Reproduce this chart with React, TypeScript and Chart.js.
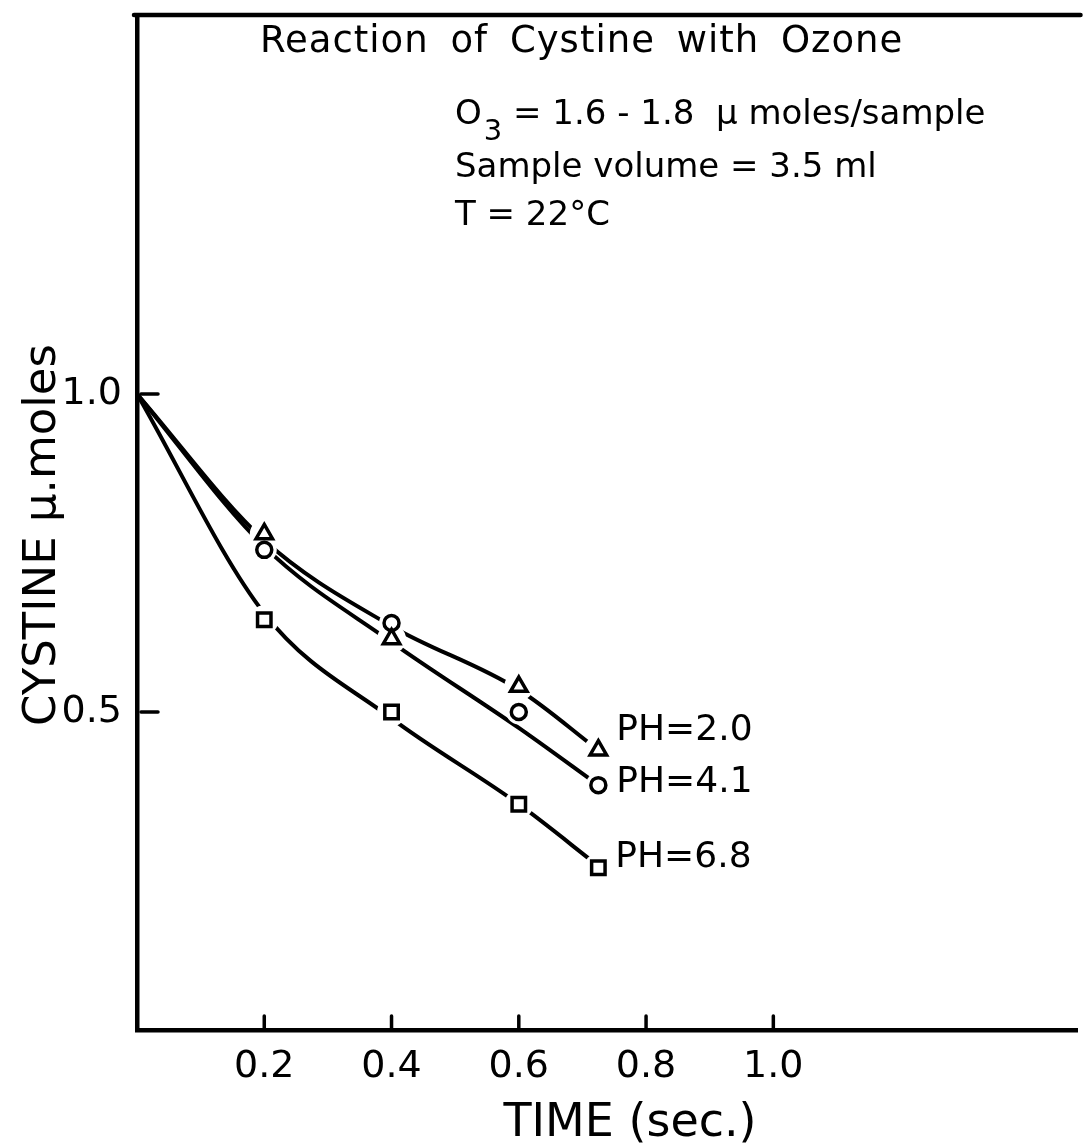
import React, { useEffect, useRef } from "react";
import { Chart, registerables } from "chart.js";

Chart.register(...registerables);

const FONT = "'DejaVu Sans', 'Liberation Sans', sans-serif";

// ---- text ----
const titleText = "Reaction of Cystine with Ozone";
const ozoneLine = { lead: "O", sub: "3", rest: " = 1.6 - 1.8  \u03bc moles/sample" };
const conditionLines = ["Sample volume = 3.5 ml", "T = 22\u00b0C"];
const xAxisTitle = "TIME (sec.)";
const yAxisTitle = "CYSTINE \u03bc.moles";

// ---- data (time in sec, cystine in µmoles) ----
const sampleTimes = [0.2, 0.4, 0.6, 0.725];
const ph20Measured = [0.78, 0.615, 0.54, 0.44];
const ph41Measured = [0.755, 0.64, 0.5, 0.385];
const ph68Measured = [0.645, 0.5, 0.355, 0.255];

// fitted curves drawn through the data
const curveTimes = [0, 0.2, 0.4, 0.6, 0.725];
const ph20Curve = [1.0, 0.77, 0.635, 0.535, 0.44];
const ph41Curve = [1.0, 0.76, 0.61, 0.475, 0.385];
const ph68Curve = [1.0, 0.655, 0.49, 0.355, 0.258];

const seriesLabels = ["PH=2.0", "PH=4.1", "PH=6.8"];
const markerStyles = ["triangle", "circle", "rect"];

// ---- axes ----
const xTickValues = [0.2, 0.4, 0.6, 0.8, 1.0];
const yTickValues = [0.5, 1.0];
const xMin = 0;
const xMax = 1.478;
const yMin = 0;
const yMax = 1.596;

const toXY = (xs: number[], ys: number[]) => xs.map((x, i) => ({ x, y: ys[i] }));

const measuredSets = [ph20Measured, ph41Measured, ph68Measured];
const curveSets = [ph20Curve, ph41Curve, ph68Curve];
const markerRadius: Record<string, number> = { triangle: 9.5, circle: 7.5, rect: 9.5 };
const labelOffsets = [
  { dx: 18, dy: -20 },
  { dx: 18, dy: -3 },
  { dx: 17, dy: -10 },
];

const decorPlugin = {
  id: "decor",
  afterDraw(chart: any) {
    const { ctx, chartArea, scales } = chart;
    const xs = scales.x;
    const ys = scales.y;
    ctx.save();
    ctx.strokeStyle = "#000";
    ctx.fillStyle = "#000";
    ctx.lineCap = "round";

    // top frame line
    ctx.lineWidth = 4.5;
    ctx.beginPath();
    ctx.moveTo(chartArea.left - 3, chartArea.top);
    ctx.lineTo(chartArea.right + 3, chartArea.top);
    ctx.stroke();

    // inward tick marks
    ctx.lineWidth = 3.5;
    xTickValues.forEach((v) => {
      const px = xs.getPixelForValue(v);
      ctx.beginPath();
      ctx.moveTo(px, chartArea.bottom);
      ctx.lineTo(px, chartArea.bottom - 14);
      ctx.stroke();
    });
    yTickValues.forEach((v) => {
      const py = ys.getPixelForValue(v);
      ctx.beginPath();
      ctx.moveTo(chartArea.left + 4, py);
      ctx.lineTo(chartArea.left + 21, py);
      ctx.stroke();
    });

    // title
    ctx.textBaseline = "alphabetic";
    ctx.textAlign = "left";
    ctx.font = `37px ${FONT}`;
    (ctx as any).letterSpacing = "1px";
    (ctx as any).wordSpacing = "9px";
    ctx.fillText(titleText, 260, 52);
    (ctx as any).letterSpacing = "0px";
    (ctx as any).wordSpacing = "0px";

    // conditions
    const left = 455;
    ctx.font = `34px ${FONT}`;
    let cx = left;
    ctx.fillText(ozoneLine.lead, cx, 124);
    cx += ctx.measureText(ozoneLine.lead).width + 2;
    ctx.font = `29px ${FONT}`;
    ctx.fillText(ozoneLine.sub, cx, 140);
    cx += ctx.measureText(ozoneLine.sub).width;
    ctx.font = `34px ${FONT}`;
    ctx.fillText(ozoneLine.rest, cx, 124);
    ctx.fillText(conditionLines[0], left, 177);
    ctx.fillText(conditionLines[1], left, 225);

    // series labels at curve ends
    ctx.font = `36px ${FONT}`;
    ctx.textBaseline = "middle";
    measuredSets.forEach((vals, i) => {
      const last = vals.length - 1;
      const px = xs.getPixelForValue(sampleTimes[last]);
      const py = ys.getPixelForValue(vals[last]);
      ctx.fillText(seriesLabels[i], px + labelOffsets[i].dx, py + labelOffsets[i].dy);
    });

    // axis titles
    ctx.font = `46px ${FONT}`;
    ctx.textAlign = "center";
    ctx.textBaseline = "alphabetic";
    ctx.fillText(xAxisTitle, 630, 1136);
    ctx.save();
    ctx.translate(55, 535);
    ctx.rotate(-Math.PI / 2);
    ctx.font = `45px ${FONT}`;
    ctx.fillText(yAxisTitle, 0, 0);
    ctx.restore();

    ctx.restore();
  },
};

export default function App() {
  const canvasRef = useRef<HTMLCanvasElement | null>(null);

  useEffect(() => {
    if (!canvasRef.current) return;

    const curveDatasets = curveSets.map((vals, i) => ({
      label: seriesLabels[i] + " fit",
      data: toXY(curveTimes, vals),
      showLine: true,
      borderColor: "#000",
      borderWidth: 4,
      pointRadius: 0,
      cubicInterpolationMode: "monotone" as const,
      fill: false,
      order: 3,
    }));

    const haloDatasets = measuredSets.map((vals, i) => ({
      label: seriesLabels[i] + " halo",
      data: toXY(sampleTimes, vals),
      showLine: false,
      pointStyle: "circle" as const,
      pointRadius: markerRadius[markerStyles[i]] + 5,
      pointBackgroundColor: "#fff",
      pointBorderWidth: 0,
      pointBorderColor: "#fff",
      order: 2,
    }));

    const markerDatasets = measuredSets.map((vals, i) => ({
      label: seriesLabels[i],
      data: toXY(sampleTimes, vals),
      showLine: false,
      pointStyle: markerStyles[i] as any,
      pointRadius: markerRadius[markerStyles[i]],
      pointBackgroundColor: "#fff",
      pointBorderColor: "#000",
      pointBorderWidth: 3.5,
      order: 1,
    }));

    const chart = new Chart(canvasRef.current, {
      type: "scatter",
      data: { datasets: [...markerDatasets, ...haloDatasets, ...curveDatasets] as any },
      options: {
        animation: false,
        responsive: false,
        devicePixelRatio: 1,
        layout: { padding: { top: 15, right: 0, left: 0, bottom: 0 } },
        plugins: {
          legend: { display: false },
          tooltip: { enabled: false },
          title: { display: false },
        },
        scales: {
          x: {
            type: "linear",
            min: xMin,
            max: xMax,
            afterBuildTicks: (s: any) => {
              s.ticks = xTickValues.map((v) => ({ value: v }));
            },
            afterFit: (s: any) => {
              s.height = 114;
              s.paddingLeft = 0;
              s.paddingRight = 0;
            },
            grid: { display: false, drawTicks: false },
            border: { display: true, color: "#000", width: 4.5 },
            ticks: {
              color: "#000",
              padding: 14,
              maxRotation: 0,
              autoSkip: false,
              font: { family: FONT, size: 38 },
              callback: (v: any) => Number(v).toFixed(1),
            },
          },
          y: {
            type: "linear",
            min: yMin,
            max: yMax,
            afterBuildTicks: (s: any) => {
              s.ticks = yTickValues.map((v) => ({ value: v }));
            },
            afterFit: (s: any) => {
              s.width = 137;
              s.paddingTop = 0;
              s.paddingBottom = 0;
            },
            grid: { display: false, drawTicks: false },
            border: { display: true, color: "#000", width: 4.5 },
            ticks: {
              color: "#000",
              padding: 15,
              font: { family: FONT, size: 38 },
              callback: (v: any) => Number(v).toFixed(1),
            },
          },
        },
      },
      plugins: [decorPlugin],
    });

    return () => chart.destroy();
  }, []);

  return (
    <div style={{ position: "absolute", left: 0, top: 0, width: 1092, height: 1144, background: "#fff" }}>
      <canvas ref={canvasRef} width={1092} height={1144} style={{ display: "block" }} />
    </div>
  );
}
